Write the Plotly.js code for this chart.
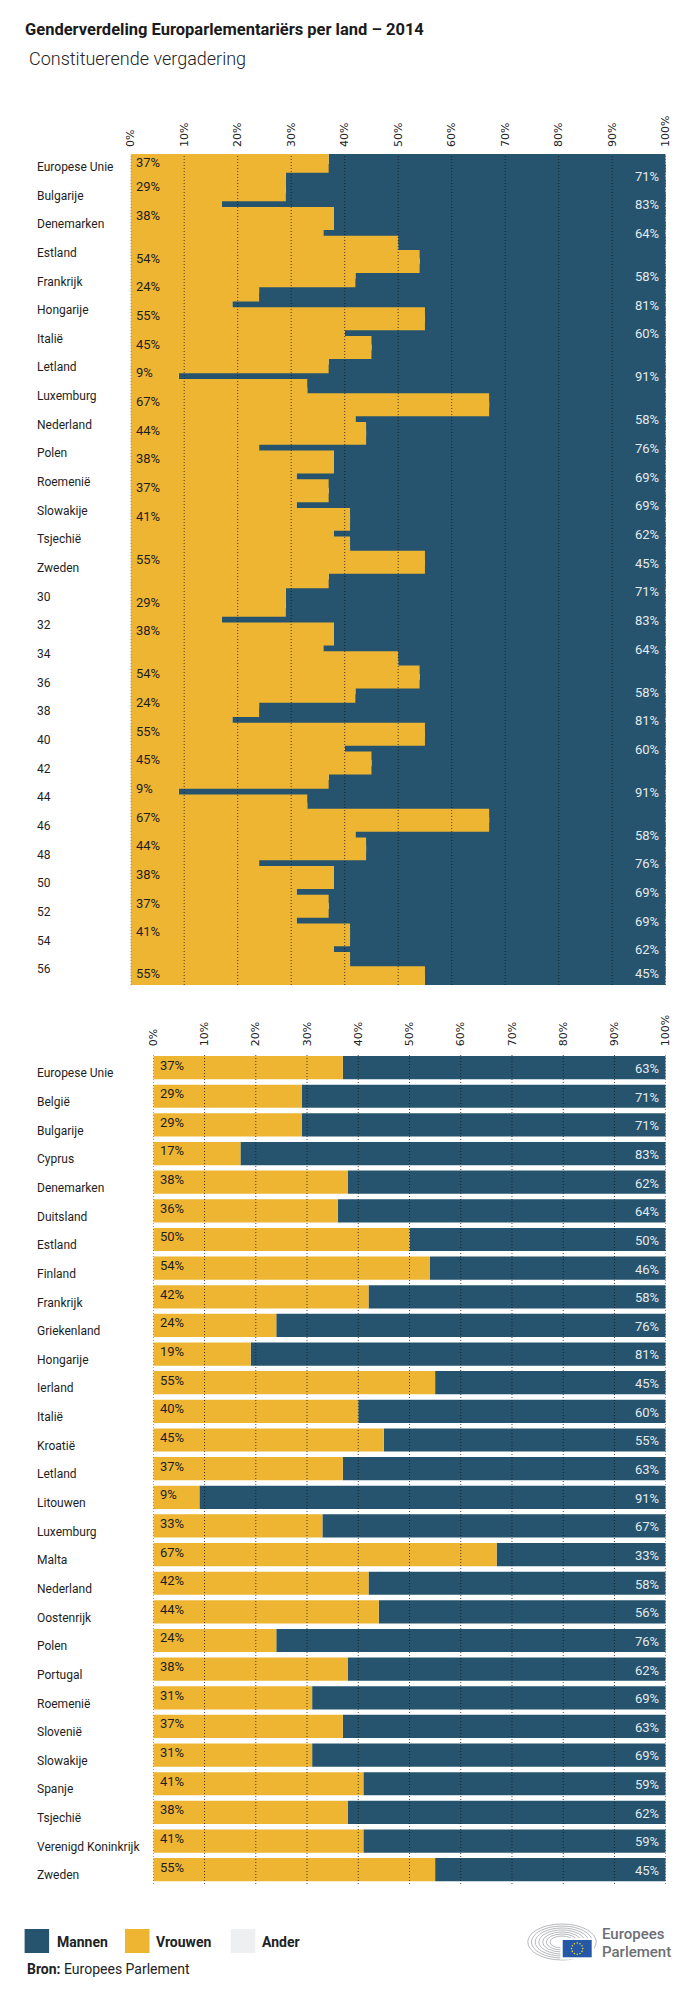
<!DOCTYPE html>
<html><head><meta charset="utf-8">
<script src="https://cdn.plot.ly/plotly-3.0.1.min.js"></script>
<style>html,body{margin:0;padding:0;background:#fff}#chart{width:700px;height:1993px}</style>
</head><body><div id="chart"></div>
<script>
// ---------- data ----------
const countries = ["Europese Unie","België","Bulgarije","Cyprus","Denemarken","Duitsland","Estland","Finland","Frankrijk","Griekenland","Hongarije","Ierland","Italië","Kroatië","Letland","Litouwen","Luxemburg","Malta","Nederland","Oostenrijk","Polen","Portugal","Roemenië","Slovenië","Slowakije","Spanje","Tsjechië","Verenigd Koninkrijk","Zweden"];
const vrouwen = [37,29,29,17,38,36,50,54,42,24,19,55,40,45,37,9,33,67,42,44,24,38,31,37,31,41,38,41,55];
const mannen  = [63,71,71,83,62,64,50,46,58,76,81,45,60,55,63,91,67,33,58,56,76,62,69,63,69,59,62,59,45];
const xTicks = [0,10,20,30,40,50,60,70,80,90,100];
const xTickText = xTicks.map(v => v + '%');
const seriesNames = ["Mannen","Vrouwen","Ander"];

// top chart (the "Constituerende vergadering" panel): the same series drawn twice on 58 rows
const topVrouwen = vrouwen.concat(vrouwen);
const topMannen  = mannen.concat(mannen);
const topCategories = countries.concat(countries.map((c, i) => String(countries.length + i)));
const topVrouwenLabelShown = [0,2,4,7,9,11,13,15,17,19,21,23,25,28,31,33,36,38,40,42,44,46,48,50,52,54,57];
const topMannenLabelShown  = [1,3,5,8,10,12,15,18,20,22,24,26,28,30,32,34,37,39,41,44,47,49,51,53,55,57];

// ---------- style ----------
const W = 700, H = 1993;
const BLUE = '#26546F', YELLOW = '#EEB533', GREY = '#EEEFF1';
const seriesColors = [BLUE, YELLOW, GREY];
const px = v => v / W;
const py = v => 1 - v / H;
const TXT = '#1e1e1e';
const labelFont = {family: 'Roboto, sans-serif', size: 12, color: TXT};
const valFont = c => ({family: 'Roboto, sans-serif', size: 13, color: c});

const topIdx = topVrouwen.map((v, i) => i);
const botIdx = vrouwen.map((v, i) => i);
const TOP = {x0: 130.7, x1: 665.7, y0: 154, y1: 985};
const BOT = {x0: 153.3, x1: 665.7, y0: 1053.3, y1: 1884};

const traces = [
  {type: 'bar', orientation: 'h', name: 'Mannen', y: topIdx, x: topMannen, base: topVrouwen, width: 1.6,
   marker: {color: BLUE}, xaxis: 'x', yaxis: 'y', showlegend: false, hoverinfo: 'skip'},
  {type: 'bar', orientation: 'h', name: 'Vrouwen', y: topIdx, x: topVrouwen, base: 0, width: 1.6,
   marker: {color: YELLOW}, xaxis: 'x', yaxis: 'y', showlegend: false, hoverinfo: 'skip'},
  {type: 'bar', orientation: 'h', name: 'Mannen', y: botIdx, x: mannen, base: vrouwen, width: 0.81,
   marker: {color: BLUE}, xaxis: 'x2', yaxis: 'y2', showlegend: false, hoverinfo: 'skip'},
  {type: 'bar', orientation: 'h', name: 'Vrouwen', y: botIdx, x: vrouwen, base: 0, width: 0.81,
   marker: {color: YELLOW}, xaxis: 'x2', yaxis: 'y2', showlegend: false, hoverinfo: 'skip'}
];

const clampTop = v => Math.min(Math.max(v, 0.1), 56.7);
const ann = [];
// subtitle
ann.push({xref:'paper', yref:'paper', x: px(27), y: py(58.5), xanchor:'left', yanchor:'middle', showarrow:false,
  text:'Constituerende vergadering', font:{family:'Roboto, sans-serif', size:18, weight:300, color:'#222'}});
// top category labels
for (let k = 0; k < topCategories.length; k += 2) {
  ann.push({xref:'paper', yref:'y', x: px(35.3), y: k + 0.4, xanchor:'left', yanchor:'middle', showarrow:false,
    text: topCategories[k], font: labelFont});
}
topVrouwenLabelShown.forEach(i => ann.push({xref:'x', yref:'y', x: 0, y: clampTop(i - 0.22), xanchor:'left', yanchor:'middle',
  xshift: 3, showarrow:false, text: topVrouwen[i] + '%', font: valFont(TXT)}));
topMannenLabelShown.forEach(i => ann.push({xref:'x', yref:'y', x: 100, y: clampTop(i + 0.05), xanchor:'right', yanchor:'middle',
  xshift: -5, showarrow:false, text: topMannen[i] + '%', font: valFont('#E4E9ED')}));
// bottom chart labels
countries.forEach((c, i) => {
  ann.push({xref:'paper', yref:'y2', x: px(35.3), y: i + 0.2, xanchor:'left', yanchor:'middle', showarrow:false,
    text: c, font: labelFont});
  ann.push({xref:'x2', yref:'y2', x: 0, y: i - 0.09, xanchor:'left', yanchor:'middle', xshift: 4.5, showarrow:false,
    text: vrouwen[i] + '%', font: valFont(TXT)});
  ann.push({xref:'x2', yref:'y2', x: 100, y: i + 0.03, xanchor:'right', yanchor:'middle', xshift: -5, showarrow:false,
    text: mannen[i] + '%', font: valFont('#E4E9ED')});
});

const shapes = [];
// dotted grid lines above the bars
[['x','y'],['x2','y2']].forEach(([xa, ya]) => xTicks.forEach(t => shapes.push({
  type:'line', xref: xa, yref: ya + ' domain', x0: t, x1: t, y0: 0, y1: 1, layer:'above',
  line:{color:'rgba(20,20,20,0.75)', width:1, dash:'1px,2px'}})));

// legend
const legSq = [24.6, 125, 230.8], legTx = [54.5, 154, 260.3];
seriesNames.forEach((n, i) => {
  shapes.push({type:'rect', xref:'paper', yref:'paper', x0: px(legSq[i]), x1: px(legSq[i] + 24.5),
    y0: py(1953), y1: py(1929), fillcolor: seriesColors[i], line:{width:0}});
  ann.push({xref:'paper', yref:'paper', x: px(legTx[i]), y: py(1941.5), xanchor:'left', yanchor:'middle', showarrow:false,
    text: '<b>' + n + '</b>', font:{family:'Roboto, sans-serif', size:14, color:'#222'}});
});
ann.push({xref:'paper', yref:'paper', x: px(25), y: py(1968.5), xanchor:'left', yanchor:'middle', showarrow:false,
  text:'<b>Bron:</b> Europees Parlement', font:{family:'Roboto, sans-serif', size:14, color:'#222'}});

// logo (hemicycle + flag + wordmark)
const hc = {x: 562, y: 1942};
for (let r = 0; r < 7; r++) {
  const rx = 12 + r * 3.7, ry = 6 + r * 2;
  shapes.push({type:'circle', xref:'paper', yref:'paper', x0: px(hc.x - rx), x1: px(hc.x + rx),
    y0: py(hc.y + ry), y1: py(hc.y - ry), line:{color:'#a3a6aa', width:0.8}});
}
shapes.push({type:'rect', xref:'paper', yref:'paper', x0: px(560.5), x1: px(594), y0: py(1959.5), y1: py(1938),
  fillcolor:'#ffffff', line:{width:0}});
shapes.push({type:'rect', xref:'paper', yref:'paper', x0: px(562.7), x1: px(591.7), y0: py(1957.3), y1: py(1940),
  fillcolor:'#2457A5', line:{width:0}});
for (let s = 0; s < 12; s++) {
  const a = s * Math.PI / 6, cx = 577.2 + 5.6 * Math.cos(a), cy = 1948.6 + 5.6 * Math.sin(a);
  shapes.push({type:'circle', xref:'paper', yref:'paper', x0: px(cx - 0.8), x1: px(cx + 0.8),
    y0: py(cy + 0.8), y1: py(cy - 0.8), fillcolor:'#F2D21A', line:{width:0}});
}
ann.push({xref:'paper', yref:'paper', x: px(600), y: py(1933.5), xanchor:'left', yanchor:'middle', showarrow:false,
  text:'Europees', font:{family:'Roboto, sans-serif', size:15, weight:500, color:'#6C6F73'}});
ann.push({xref:'paper', yref:'paper', x: px(600), y: py(1951.5), xanchor:'left', yanchor:'middle', showarrow:false,
  text:'Parlement', font:{family:'Roboto, sans-serif', size:15, weight:500, color:'#6C6F73'}});

const xAxisBase = {range:[0,100], side:'top', tickvals: xTicks, ticktext: xTickText, tickangle:-90,
  showgrid:false, zeroline:false, showline:false, ticks:'', ticklabelstandoff: 6,
  tickfont:{family:'DejaVu Sans, sans-serif', size:11, color:'#222'}, fixedrange:true};
const yAxisBase = {showgrid:false, zeroline:false, showline:false, showticklabels:false, ticks:'', fixedrange:true};

const layout = {
  width: W, height: H, margin:{l:0, r:0, t:0, b:0, pad:0},
  paper_bgcolor:'#fff', plot_bgcolor:'rgba(0,0,0,0)', barmode:'overlay', showlegend:false,
  title:{text:'Genderverdeling Europarlementariërs per land – 2014', x: px(25), xanchor:'left', xref:'paper',
    y: py(29.5), yanchor:'middle', yref:'paper', font:{family:'Roboto, sans-serif', size:16.5, weight:700, color:'#1a1a1a'}},
  xaxis: Object.assign({}, xAxisBase, {domain:[px(TOP.x0), px(TOP.x1)], anchor:'y'}),
  yaxis: Object.assign({}, yAxisBase, {domain:[py(TOP.y1), py(TOP.y0)], range:[topIdx.length - 0.5, -0.5], anchor:'x'}),
  xaxis2: Object.assign({}, xAxisBase, {domain:[px(BOT.x0), px(BOT.x1)], anchor:'y2'}),
  yaxis2: Object.assign({}, yAxisBase, {domain:[py(BOT.y1), py(BOT.y0)], range:[botIdx.length - 0.5, -0.5], anchor:'x2'}),
  annotations: ann, shapes: shapes
};
Plotly.newPlot('chart', traces, layout, {staticPlot:true, displayModeBar:false});
</script></body></html>
